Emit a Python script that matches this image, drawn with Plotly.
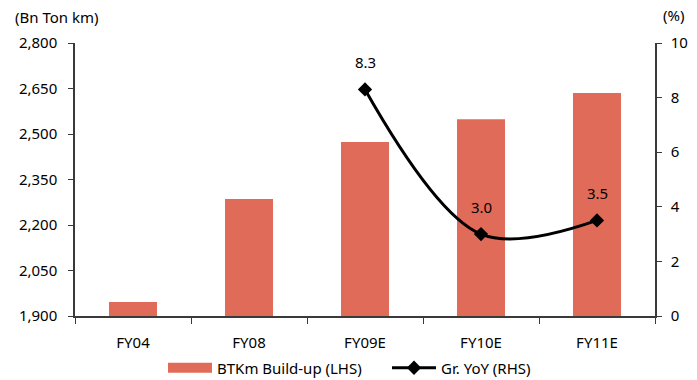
import plotly.graph_objects as go

categories = ["FY04", "FY08", "FY09E", "FY10E", "FY11E"]
btkm = [1946, 2286, 2474, 2549, 2635]
growth = [None, None, 8.3, 3.0, 3.5]
left_ticks = [1900, 2050, 2200, 2350, 2500, 2650, 2800]
right_ticks = [0, 2, 4, 6, 8, 10]

FONT = "Noto Sans"
BAR_COLOR = "#E06B58"
AXIS_COLOR = "#3a3a3a"

fig = go.Figure()
fig.add_trace(go.Bar(
    x=categories, y=btkm, name="BTKm Build-up (LHS)",
    marker=dict(color=BAR_COLOR, line=dict(width=0)),
    yaxis="y", showlegend=False,
))
# wide swatch for the bar series in the legend
fig.add_trace(go.Scatter(
    x=[categories[0]], y=[None], name="BTKm Build-up (LHS)",
    mode="lines", line=dict(color=BAR_COLOR, width=10), yaxis="y",
))
fig.add_trace(go.Scatter(
    x=categories, y=growth, name="Gr. YoY (RHS)",
    mode="lines+markers",
    line=dict(color="black", width=3, shape="spline", smoothing=1.0),
    marker=dict(symbol="diamond", size=11, color="black"),
    yaxis="y2",
))

# value labels above the growth points
for c, v in zip(categories, growth):
    if v is None:
        continue
    fig.add_annotation(x=c, y=v, yref="y2", text=f"{v:.1f}", showarrow=False,
                       yshift=27, font=dict(family=FONT, size=15, color="black"))

fig.add_annotation(x=-62 / 580, xref="paper", xanchor="left",
                   y=1 + 26 / 273, yref="paper", yanchor="middle",
                   text="(Bn Ton km)", showarrow=False, font=dict(size=15))
fig.add_annotation(x=1 + 18 / 580, xref="paper", xanchor="center",
                   y=1 + 28 / 273, yref="paper", yanchor="middle",
                   text="(%)", showarrow=False, font=dict(size=15))

fig.update_layout(
    width=697, height=380,
    margin=dict(l=75, r=42, t=43, b=64, autoexpand=False),
    paper_bgcolor="white", plot_bgcolor="white",
    font=dict(family=FONT, size=15, color="black"),
    bargap=0.586,
    showlegend=True,
    legend=dict(orientation="h", x=(163 - 75) / 580, xanchor="left",
                y=-(368 - 316) / 273, yanchor="middle",
                entrywidth=165, itemwidth=44,
                font=dict(family=FONT, size=15), tracegroupgap=0),
    xaxis=dict(showline=True, linecolor=AXIS_COLOR, linewidth=1.5,
               ticks="outside", tickson="boundaries", ticklen=6, tickcolor=AXIS_COLOR,
               showgrid=False, ticklabelstandoff=12, range=[-0.5, 4.5]),
    yaxis=dict(range=[1900, 2800], tickvals=left_ticks, tickformat=",",
               showline=True, linecolor=AXIS_COLOR, linewidth=1.5,
               ticks="outside", ticklen=5, tickcolor=AXIS_COLOR, showgrid=False,
               zeroline=False, ticklabelstandoff=8),
    yaxis2=dict(range=[0, 10], tickvals=right_ticks, overlaying="y", side="right",
                showline=True, linecolor=AXIS_COLOR, linewidth=1.5,
                ticks="outside", ticklen=5, tickcolor=AXIS_COLOR, showgrid=False,
                zeroline=False, ticklabelstandoff=6),
)

fig.write_html("out.html")
